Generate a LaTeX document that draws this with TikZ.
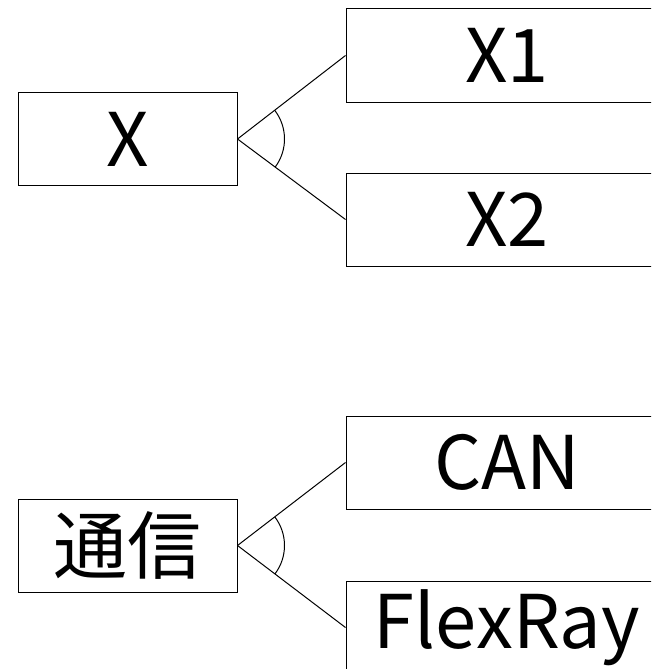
\documentclass[tikz,border=0pt]{standalone}
\usepackage{fontspec}
\setmainfont{Noto Sans CJK JP}
\usetikzlibrary{angles}

\tikzset{
  entity/.style={draw, line width=1pt, inner sep=0pt, minimum height=93pt, font=\fontsize{74}{74}\selectfont},
  parent/.style={entity, minimum width=219pt},
  child/.style={entity, minimum width=322pt},
  link/.style={line width=1pt},
  xor/.style={draw, line width=1pt, angle radius=47pt}
}

\begin{document}
\begin{tikzpicture}[x=1pt, y=-1pt]
\useasboundingbox (0,0) rectangle (651,669);
\clip (0,0) rectangle (651,669);
% upper tree
\node[parent] (x) at (127.5,139) {X};
\node[child] (x1) at (507,55.5) {X1};
\node[child] (x2) at (507,219.5) {X2};
\draw[link] (x.east) -- (x1.west);
\draw[link] (x.east) -- (x2.west);
\coordinate (xa) at (x.east);
\coordinate (xb) at (x1.west);
\coordinate (xc) at (x2.west);
\pic[xor] {angle = xc--xa--xb};
% lower tree
\node[parent] (comm) at (127.5,545.5) {通信};
\node[child] (can) at (507,462.5) {CAN};
\node[child] (flexray) at (507,627.5) {FlexRay};
\draw[link] (comm.east) -- (can.west);
\draw[link] (comm.east) -- (flexray.west);
\coordinate (ca) at (comm.east);
\coordinate (cb) at (can.west);
\coordinate (cc) at (flexray.west);
\pic[xor] {angle = cc--ca--cb};
\end{tikzpicture}
\end{document}
